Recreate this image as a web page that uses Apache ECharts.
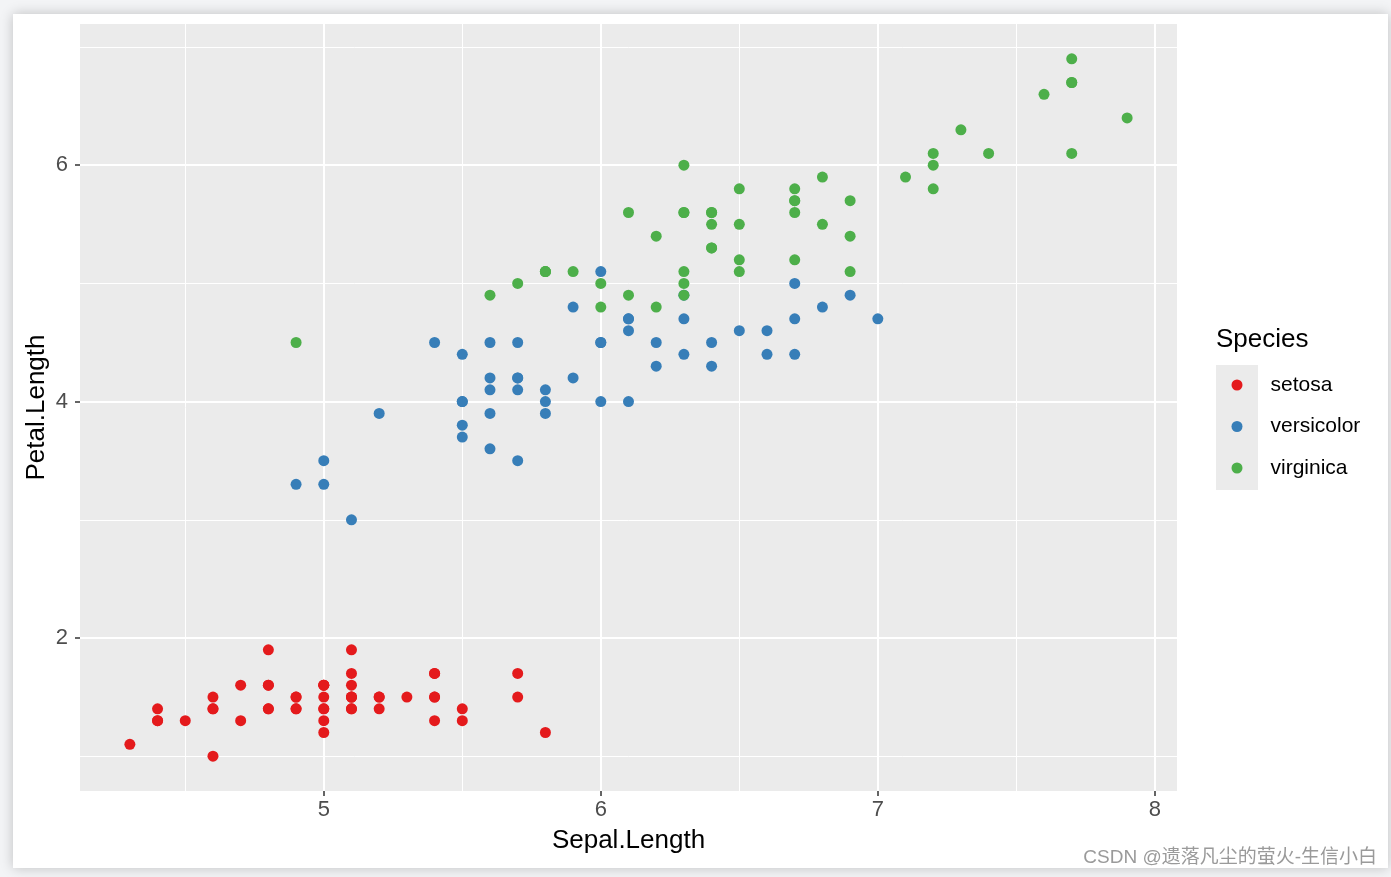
<!DOCTYPE html>
<html>
<head>
<meta charset="utf-8">
<script src="https://cdn.jsdelivr.net/npm/echarts@6/dist/echarts.min.js"></script>
<style>
html,body{margin:0;padding:0;background:#f3f4f6;}
#chart{width:1391px;height:877px;}
</style>
</head>
<body>
<div id="chart"></div>
<script>
// ---- data (iris: Sepal.Length vs Petal.Length) ----
const speciesNames = ['setosa', 'versicolor', 'virginica'];
const speciesColors = ['#E41A1C', '#377EB8', '#4DAF4A'];

const setosaSepal = [5.1,4.9,4.7,4.6,5.0,5.4,4.6,5.0,4.4,4.9,5.4,4.8,4.8,4.3,5.8,5.7,5.4,5.1,5.7,5.1,5.4,5.1,4.6,5.1,4.8,5.0,5.0,5.2,5.2,4.7,4.8,5.4,5.2,5.5,4.9,5.0,5.5,4.9,4.4,5.1,5.0,4.5,4.4,5.0,5.1,4.8,5.1,4.6,5.3,5.0];
const setosaPetal = [1.4,1.4,1.3,1.5,1.4,1.7,1.4,1.5,1.4,1.5,1.5,1.6,1.4,1.1,1.2,1.5,1.3,1.4,1.7,1.5,1.7,1.5,1.0,1.7,1.9,1.6,1.6,1.5,1.4,1.6,1.6,1.5,1.5,1.4,1.5,1.2,1.3,1.4,1.3,1.5,1.3,1.3,1.3,1.6,1.9,1.4,1.6,1.4,1.5,1.4];

const versicolorSepal = [7.0,6.4,6.9,5.5,6.5,5.7,6.3,4.9,6.6,5.2,5.0,5.9,6.0,6.1,5.6,6.7,5.6,5.8,6.2,5.6,5.9,6.1,6.3,6.1,6.4,6.6,6.8,6.7,6.0,5.7,5.5,5.5,5.8,6.0,5.4,6.0,6.7,6.3,5.6,5.5,5.5,6.1,5.8,5.0,5.6,5.7,5.7,6.2,5.1,5.7];
const versicolorPetal = [4.7,4.5,4.9,4.0,4.6,4.5,4.7,3.3,4.6,3.9,3.5,4.2,4.0,4.7,3.6,4.4,4.5,4.1,4.5,3.9,4.8,4.0,4.9,4.7,4.3,4.4,4.8,5.0,4.5,3.5,3.8,3.7,3.9,5.1,4.5,4.5,4.7,4.4,4.1,4.0,4.4,4.6,4.0,3.3,4.2,4.2,4.2,4.3,3.0,4.1];

const virginicaSepal = [6.3,5.8,7.1,6.3,6.5,7.6,4.9,7.3,6.7,7.2,6.5,6.4,6.8,5.7,5.8,6.4,6.5,7.7,7.7,6.0,6.9,5.6,7.7,6.3,6.7,7.2,6.2,6.1,6.4,7.2,7.4,7.9,6.4,6.3,6.1,7.7,6.3,6.4,6.0,6.9,6.7,6.9,5.8,6.8,6.7,6.7,6.3,6.5,6.2,5.9];
const virginicaPetal = [6.0,5.1,5.9,5.6,5.8,6.6,4.5,6.3,5.8,6.1,5.1,5.3,5.5,5.0,5.1,5.3,5.5,6.7,6.9,5.0,5.7,4.9,6.7,4.9,5.7,6.0,4.8,4.9,5.6,5.8,6.1,6.4,5.6,5.1,5.6,6.1,5.6,5.5,4.8,5.4,5.6,5.1,5.1,5.9,5.7,5.2,5.0,5.2,5.4,5.1];

const xTicks = [5, 6, 7, 8];
const xMinor = [4.5, 5.5, 6.5, 7.5];
const yTicks = [2, 4, 6];
const yMinor = [1, 3, 5, 7];

const xTitle = 'Sepal.Length';
const yTitle = 'Petal.Length';
const legendTitle = 'Species';
const watermark = 'CSDN @遗落凡尘的萤火-生信小白';

// ---- chart ----
const FONT = '"Liberation Sans", Arial, "Noto Sans CJK SC", sans-serif';
const zip = (a, b) => a.map((v, i) => [v, b[i]]);
const seriesXY = [
  zip(setosaSepal, setosaPetal),
  zip(versicolorSepal, versicolorPetal),
  zip(virginicaSepal, virginicaPetal)
];

const xr = [Math.min(...setosaSepal, ...versicolorSepal, ...virginicaSepal), Math.max(...setosaSepal, ...versicolorSepal, ...virginicaSepal)];
const yr = [Math.min(...setosaPetal, ...versicolorPetal, ...virginicaPetal), Math.max(...setosaPetal, ...versicolorPetal, ...virginicaPetal)];
const xPad = (xr[1] - xr[0]) * 0.05, yPad = (yr[1] - yr[0]) * 0.05;

const gridLines = [];
xMinor.forEach(v => gridLines.push({xAxis: v, lineStyle: {width: 1}}));
yMinor.forEach(v => gridLines.push({yAxis: v, lineStyle: {width: 1}}));
xTicks.forEach(v => gridLines.push({xAxis: v, lineStyle: {width: 2}}));
yTicks.forEach(v => gridLines.push({yAxis: v, lineStyle: {width: 2}}));

const chart = echarts.init(document.getElementById('chart'), null, {renderer: 'canvas'});
const option = {
  backgroundColor: '#f3f4f6',
  animation: false,
  textStyle: {fontFamily: FONT},
  graphic: [
    {type: 'rect', z: -10, shape: {x: 13, y: 14, width: 1375, height: 854},
     style: {fill: '#ffffff', shadowBlur: 12, shadowColor: 'rgba(0,0,0,0.22)', shadowOffsetX: 0, shadowOffsetY: 0}},
    {type: 'rect', z: 1, shape: {x: 1216, y: 365, width: 42, height: 125}, style: {fill: '#EBEBEB'}},
    {type: 'text', z: 5, x: 1216, y: 340, style: {text: legendTitle, fontSize: 26, fill: '#000', fontFamily: FONT, verticalAlign: 'middle', align: 'left'}},
    {type: 'text', z: 5, x: 1377, y: 858, style: {text: watermark, fontSize: 19, fill: '#9a9a9a', fontFamily: FONT, verticalAlign: 'middle', align: 'right'}}
  ],
  grid: {left: 80, top: 24, width: 1097, height: 767, show: true, backgroundColor: '#EBEBEB', borderWidth: 0},
  legend: {
    data: speciesNames,
    orient: 'vertical',
    left: 1231.5, top: 374.5,
    padding: 0,
    itemWidth: 11, itemHeight: 11,
    itemGap: 20.5,
    icon: 'circle',
    textStyle: {fontSize: 21, color: '#000', lineHeight: 21, padding: [0, 0, 0, 23], fontFamily: FONT}
  },
  xAxis: {
    type: 'value',
    min: +(xr[0] - xPad).toFixed(4), max: +(xr[1] + xPad).toFixed(4),
    name: xTitle, nameLocation: 'middle', nameGap: 37, nameMoveOverlap: false,
    nameTextStyle: {fontSize: 26, color: '#000', fontFamily: FONT},
    axisLine: {show: false},
    axisTick: {show: true, length: 5, lineStyle: {color: '#333', width: 1.5}, customValues: xTicks},
    axisLabel: {fontSize: 22, color: '#4D4D4D', margin: 8, customValues: xTicks, fontFamily: FONT},
    splitLine: {show: false}
  },
  yAxis: {
    type: 'value',
    min: +(yr[0] - yPad).toFixed(4), max: +(yr[1] + yPad).toFixed(4),
    name: yTitle, nameLocation: 'middle', nameGap: 30, nameRotate: 90, nameMoveOverlap: false,
    nameTextStyle: {fontSize: 26, color: '#000', fontFamily: FONT},
    axisLine: {show: false},
    axisTick: {show: true, length: 5, lineStyle: {color: '#333', width: 1.5}, customValues: yTicks},
    axisLabel: {fontSize: 22, color: '#4D4D4D', margin: 12, customValues: yTicks, fontFamily: FONT},
    splitLine: {show: false}
  },
  series: [
    {
      type: 'scatter', name: '_grid', data: [], z: 1, silent: true,
      markLine: {silent: true, z: 1, symbol: 'none', animation: false, label: {show: false},
        lineStyle: {color: '#ffffff', type: 'solid'}, data: gridLines, emphasis: {disabled: true}}
    }
  ].concat(speciesNames.map((n, i) => ({
    type: 'scatter', name: n, data: seriesXY[i], z: 3,
    symbol: 'circle', symbolSize: 11,
    itemStyle: {color: speciesColors[i], opacity: 1}
  })))
};
chart.setOption(option);
</script>
</body>
</html>
